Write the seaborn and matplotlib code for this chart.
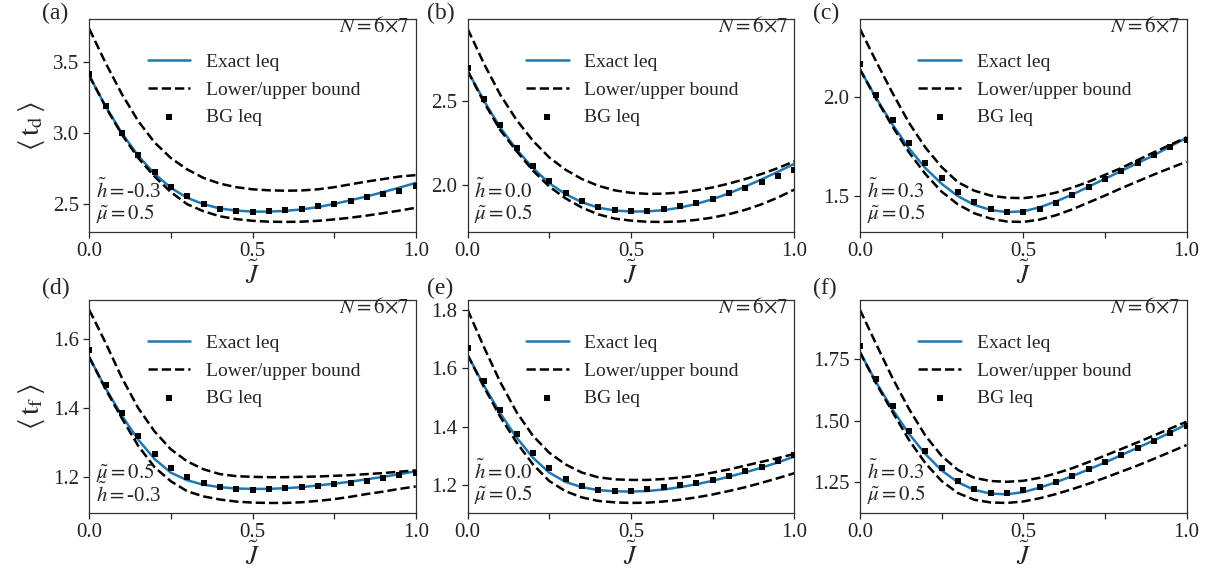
import matplotlib
matplotlib.use("Agg")
import matplotlib.pyplot as plt
import seaborn as sns

J = [0.0, 0.05, 0.1, 0.15, 0.2, 0.25, 0.3, 0.35, 0.4, 0.45, 0.5,
     0.55, 0.6, 0.65, 0.7, 0.75, 0.8, 0.85, 0.9, 0.95, 1.0]

# (a) <t_d>, h=-0.3, mu=0.5
a_exact = [3.40, 3.185, 2.995, 2.835, 2.71, 2.61, 2.54, 2.495, 2.465, 2.45, 2.443,
           2.443, 2.448, 2.458, 2.475, 2.497, 2.523, 2.55, 2.58, 2.612, 2.645]
a_lower = [3.40, 3.18, 2.985, 2.82, 2.69, 2.58, 2.495, 2.445, 2.41, 2.39, 2.378,
           2.372, 2.37, 2.372, 2.378, 2.388, 2.40, 2.415, 2.432, 2.45, 2.47]
a_upper = [3.73, 3.49, 3.27, 3.08, 2.93, 2.82, 2.74, 2.68, 2.64, 2.615, 2.60,
           2.593, 2.59, 2.592, 2.60, 2.615, 2.635, 2.655, 2.672, 2.69, 2.70]
a_bg = [3.41, 3.19, 3.0, 2.845, 2.72, 2.617, 2.55, 2.50, 2.463, 2.447, 2.441,
        2.447, 2.452, 2.464, 2.48, 2.50, 2.52, 2.545, 2.567, 2.59, 2.62]

# (b) <t_d>, h=0.0, mu=0.5
b_exact = [2.677, 2.50, 2.34, 2.21, 2.10, 2.01, 1.945, 1.897, 1.865, 1.848, 1.842,
           1.843, 1.85, 1.865, 1.887, 1.915, 1.95, 1.99, 2.033, 2.078, 2.125]
b_lower = [2.677, 2.49, 2.325, 2.20, 2.085, 1.99, 1.92, 1.865, 1.825, 1.80, 1.788,
           1.781, 1.78, 1.783, 1.792, 1.806, 1.826, 1.852, 1.885, 1.925, 1.972]
b_upper = [2.927, 2.72, 2.535, 2.385, 2.262, 2.163, 2.09, 2.035, 1.995, 1.968, 1.953,
           1.947, 1.948, 1.955, 1.968, 1.985, 2.008, 2.035, 2.065, 2.10, 2.14]
b_bg = [2.693, 2.51, 2.354, 2.22, 2.112, 2.022, 1.955, 1.905, 1.87, 1.85, 1.844,
        1.848, 1.856, 1.872, 1.894, 1.919, 1.951, 1.982, 2.016, 2.053, 2.089]

# (c) <t_d>, h=0.3, mu=0.5
c_exact = [2.141, 1.995, 1.86, 1.74, 1.64, 1.56, 1.497, 1.453, 1.427, 1.416, 1.42,
           1.44, 1.47, 1.505, 1.545, 1.585, 1.625, 1.665, 1.705, 1.75, 1.793]
c_lower = [2.141, 1.99, 1.85, 1.72, 1.61, 1.52, 1.455, 1.41, 1.383, 1.368, 1.366,
           1.378, 1.40, 1.43, 1.465, 1.50, 1.537, 1.572, 1.607, 1.64, 1.672]
c_upper = [2.347, 2.18, 2.02, 1.87, 1.745, 1.645, 1.568, 1.525, 1.50, 1.489, 1.487,
           1.497, 1.515, 1.54, 1.57, 1.605, 1.64, 1.68, 1.72, 1.758, 1.796]
c_bg = [2.168, 2.012, 1.882, 1.765, 1.667, 1.588, 1.52, 1.469, 1.432, 1.417, 1.417,
        1.431, 1.461, 1.502, 1.542, 1.586, 1.627, 1.667, 1.706, 1.745, 1.782]

# (d) <t_f>, h=-0.3, mu=0.5
d_exact = [1.548, 1.458, 1.378, 1.308, 1.252, 1.212, 1.19, 1.177, 1.17, 1.166, 1.165,
           1.165, 1.167, 1.17, 1.175, 1.18, 1.186, 1.193, 1.20, 1.208, 1.216]
d_lower = [1.548, 1.455, 1.37, 1.29, 1.228, 1.187, 1.158, 1.143, 1.134, 1.128, 1.125,
           1.124, 1.124, 1.126, 1.13, 1.135, 1.142, 1.15, 1.157, 1.165, 1.172]
d_upper = [1.686, 1.59, 1.488, 1.40, 1.332, 1.28, 1.245, 1.222, 1.208, 1.202, 1.20,
           1.199, 1.199, 1.20, 1.201, 1.203, 1.205, 1.208, 1.211, 1.215, 1.219]
d_bg = [1.568, 1.468, 1.385, 1.318, 1.266, 1.225, 1.199, 1.181, 1.17, 1.165, 1.163,
        1.165, 1.167, 1.17, 1.174, 1.178, 1.183, 1.189, 1.197, 1.205, 1.212]

# (e) <t_f>, h=0.0, mu=0.5
e_exact = [1.645, 1.54, 1.445, 1.362, 1.293, 1.242, 1.21, 1.192, 1.182, 1.178, 1.177,
           1.179, 1.184, 1.192, 1.202, 1.214, 1.228, 1.243, 1.259, 1.277, 1.297]
e_lower = [1.645, 1.535, 1.433, 1.345, 1.27, 1.213, 1.178, 1.157, 1.145, 1.14, 1.138,
           1.139, 1.143, 1.149, 1.157, 1.167, 1.179, 1.192, 1.207, 1.223, 1.24]
e_upper = [1.80, 1.672, 1.552, 1.449, 1.368, 1.31, 1.27, 1.242, 1.226, 1.219, 1.217,
           1.217, 1.22, 1.225, 1.232, 1.242, 1.253, 1.266, 1.279, 1.292, 1.306]
e_bg = [1.668, 1.556, 1.457, 1.375, 1.309, 1.257, 1.221, 1.197, 1.183, 1.179, 1.18,
        1.185, 1.192, 1.199, 1.207, 1.217, 1.23, 1.247, 1.263, 1.281, 1.301]

# (f) <t_f>, h=0.3, mu=0.5
f_exact = [1.778, 1.655, 1.545, 1.447, 1.365, 1.298, 1.25, 1.219, 1.204, 1.201, 1.21,
           1.228, 1.25, 1.275, 1.302, 1.33, 1.36, 1.39, 1.42, 1.452, 1.485]
f_lower = [1.778, 1.65, 1.535, 1.422, 1.328, 1.255, 1.206, 1.179, 1.168, 1.166, 1.172,
           1.185, 1.202, 1.222, 1.244, 1.268, 1.293, 1.318, 1.345, 1.373, 1.401]
f_upper = [1.95, 1.81, 1.672, 1.548, 1.44, 1.357, 1.30, 1.268, 1.255, 1.252, 1.256,
           1.268, 1.286, 1.307, 1.332, 1.358, 1.385, 1.412, 1.44, 1.468, 1.496]
f_bg = [1.803, 1.67, 1.558, 1.46, 1.377, 1.31, 1.257, 1.222, 1.207, 1.207, 1.217,
        1.232, 1.253, 1.277, 1.304, 1.331, 1.361, 1.389, 1.419, 1.449, 1.48]

panel_tags = ["(a)", "(b)", "(c)", "(d)", "(e)", "(f)"]
h_labels = [r"$\tilde{h}=$-0.3", r"$\tilde{h}=0.0$", r"$\tilde{h}=0.3$",
            r"$\tilde{h}=$-0.3", r"$\tilde{h}=0.0$", r"$\tilde{h}=0.3$"]
mu_label = r"$\tilde{\mu}=0.5$"
yticks = [[2.5, 3.0, 3.5], [2.0, 2.5], [1.5, 2.0],
          [1.2, 1.4, 1.6], [1.2, 1.4, 1.6, 1.8], [1.25, 1.50, 1.75]]
ylabels = [r"$\langle\,\mathrm{t_d}\,\rangle$", r"$\langle\,\mathrm{t_f}\,\rangle$"]

panels = [
    (a_exact, a_lower, a_upper, a_bg),
    (b_exact, b_lower, b_upper, b_bg),
    (c_exact, c_lower, c_upper, c_bg),
    (d_exact, d_lower, d_upper, d_bg),
    (e_exact, e_lower, e_upper, e_bg),
    (f_exact, f_lower, f_upper, f_bg),
]

sns.set_theme(style="ticks")
plt.rcParams["font.family"] = ["Liberation Serif", "DejaVu Serif"]
plt.rcParams["mathtext.fontset"] = "stix"

blue = "#1f77b4"
W, H = 1210, 575
fig = plt.figure(figsize=(12.1, 5.75), dpi=100)

col_left = [89.3, 467.7, 860.0]
row_top = [19.3, 300.3]
aw, ah = 326.5, 212.3
tag_xy = [(42, 13), (427, 13), (813, 13), (42, 288), (427, 288), (813, 288)]

for i, (exact, lower, upper, bg) in enumerate(panels):
    r, c = divmod(i, 3)
    ax = fig.add_axes([col_left[c] / W, 1 - (row_top[r] + ah) / H, aw / W, ah / H])

    sns.lineplot(x=J, y=exact, ax=ax, color=blue, lw=1.8, label="Exact leq")
    sns.lineplot(x=J, y=lower, ax=ax, color="black", lw=1.8, ls="--",
                 label="Lower/upper bound")
    sns.lineplot(x=J, y=upper, ax=ax, color="black", lw=1.8, ls="--")
    sns.scatterplot(x=J, y=bg, ax=ax, color="black", marker="s", s=19,
                    linewidth=0, label="BG leq", zorder=5)

    ax.set_xlim(0, 1)
    ax.margins(y=0.05)
    ax.set_xticks([0, 0.25, 0.5, 0.75, 1.0])
    ax.set_xticklabels(["0.0", "", "0.5", "", "1.0"])
    ax.set_yticks(yticks[i])
    ax.set_yticklabels([f"{v:.2f}" if i == 5 else f"{v:.1f}" for v in yticks[i]])
    ax.tick_params(labelsize=15, length=4, width=0.9, colors="#222222")
    for sp in ax.spines.values():
        sp.set_visible(True)
        sp.set_linewidth(0.9)
        sp.set_color("#333333")

    ax.set_xlabel(r"$\tilde{J}$", fontsize=19, labelpad=0)
    if c == 0:
        ax.set_ylabel(ylabels[r], fontsize=21, labelpad=4)
    else:
        ax.set_ylabel("")

    ax.legend(loc="upper left", bbox_to_anchor=(0.155, 0.875), frameon=False,
              fontsize=14, handlelength=2.2, handletextpad=0.8,
              labelspacing=0.5, borderaxespad=0)

    ax.text(0.98, 0.962, r"$N=6{\times}7$", transform=ax.transAxes,
            ha="right", va="center", fontsize=15)
    if i == 3:
        top_txt, bot_txt = mu_label, h_labels[i]
    else:
        top_txt, bot_txt = h_labels[i], mu_label
    ax.text(0.02, 0.19, top_txt, transform=ax.transAxes, ha="left",
            va="center", fontsize=15)
    ax.text(0.02, 0.085, bot_txt, transform=ax.transAxes, ha="left",
            va="center", fontsize=15)

    tx, ty = tag_xy[i]
    fig.text(tx / W, 1 - ty / H, panel_tags[i], ha="left", va="center",
             fontsize=17)

fig.savefig("out.png", dpi=100)
